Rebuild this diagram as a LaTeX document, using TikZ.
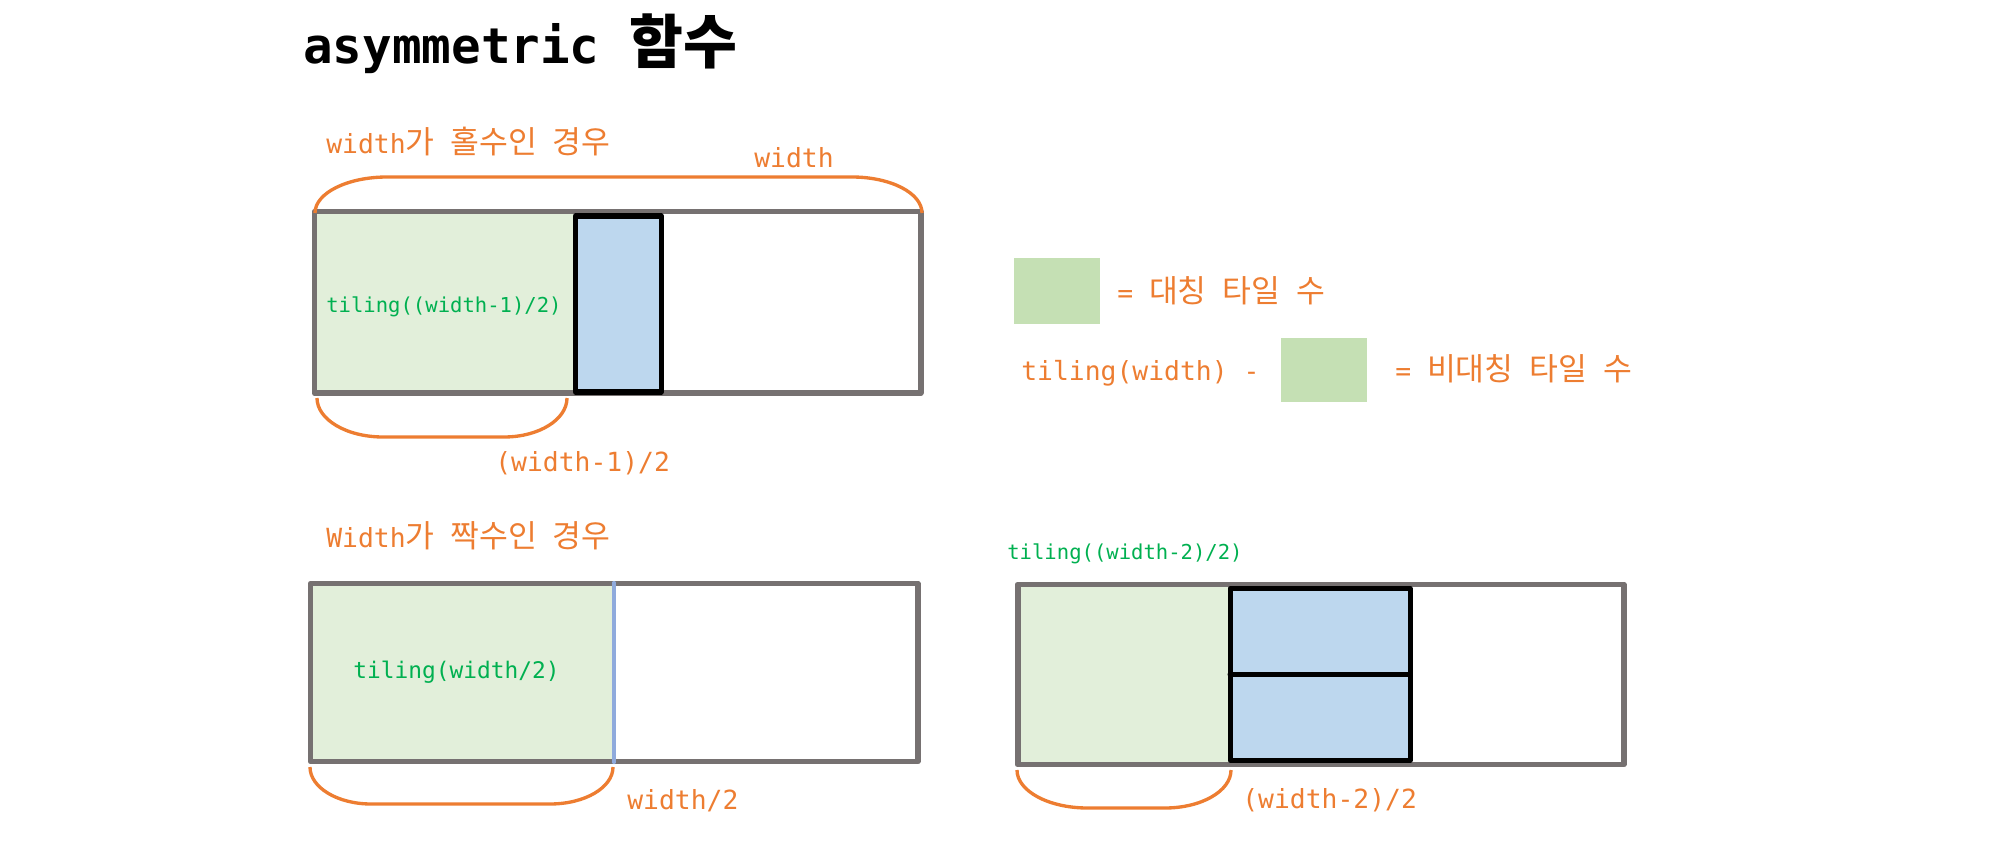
\documentclass[tikz,border=0pt]{standalone}
\usepackage{fontspec}
\usepackage{tikz}
\usepackage{tkz-euclide}
\usepackage{xcolor}
\setmainfont{DejaVu Sans Mono}
\newfontfamily\kr{Noto Sans CJK KR}[Scale=1.19]
\definecolor{orng}{HTML}{ED7D31}
\definecolor{boxgray}{HTML}{767171}
\definecolor{txtgreen}{HTML}{00B050}
\definecolor{gfill}{HTML}{E2EFDA}
\definecolor{lgreen}{HTML}{C5E0B4}
\definecolor{tblue}{HTML}{BDD7EE}
\definecolor{lineblue}{HTML}{8FAADC}
\tikzset{
	box/.style={line width=3.4pt,color=boxgray},
	tile/.style={line width=2.85pt,color=black},
	brace/.style={line width=1.9pt,color=orng},
	lbl/.style={orng,anchor=base west,inner sep=0pt,font=\fontsize{15}{18}\selectfont},
	tl/.style={txtgreen,anchor=base west,inner sep=0pt,font=\fontsize{11.7}{14}\selectfont}
}
\begin{document}
\begin{tikzpicture}
	\useasboundingbox (0,0) rectangle (40.04,16.96);
	\tkzDefPoints{6.29/9.10/A,18.41/9.10/B,18.41/12.73/C,6.29/12.73/D,11.50/9.10/E,11.50/12.73/F}
	\tkzDefPoints{11.51/9.12/G,13.22/9.12/H,13.22/12.64/I,11.51/12.64/J}
	\tkzDefPoints{6.21/1.73/K,18.35/1.73/L,18.35/5.29/M,6.21/5.29/N,12.28/1.71/P,12.28/5.31/Q}
	\tkzDefPoints{20.35/1.67/R,32.47/1.67/S,32.47/5.27/T,20.35/5.27/U,24.60/1.67/V,24.60/5.27/W}
	\tkzDefPoints{24.60/1.76/T1,28.20/1.76/T2,28.20/3.48/T3,24.60/3.48/T4,28.20/5.19/T5,24.60/5.19/T6}
	\tkzDefPoints{20.28/10.48/G1,22.00/11.80/G2,25.62/8.92/G3,27.34/10.20/G4}
	\tkzFillPolygon[color=gfill](A,E,F,D)
	\tkzFillPolygon[color=tblue](G,H,I,J)
	\tkzDrawPolygon[box](A,B,C,D)
	\tkzDrawPolygon[tile](G,H,I,J)
	\tkzFillPolygon[color=gfill](K,P,Q,N)
	\tkzDrawPolygon[box](K,L,M,N)
	\tkzDrawSegments[line width=1.8pt,color=lineblue](P,Q)
	\tkzFillPolygon[color=gfill](R,V,W,U)
	\tkzFillPolygon[color=tblue](T1,T2,T5,T6)
	\tkzDrawPolygon[box](R,S,T,U)
	\tkzDrawPolygon[tile](T1,T2,T5,T6)
	\tkzDrawSegments[tile](T4,T3)
	\fill[lgreen] (G1) rectangle (G2);
	\fill[lgreen] (G3) rectangle (G4);
	\draw[brace] (6.30,12.70) .. controls (6.30,13.10) and (6.95,13.42) .. (7.74,13.42) -- (17.04,13.42) .. controls (17.81,13.42) and (18.44,13.10) .. (18.44,12.70);
	\draw[brace] (6.34,9.00) .. controls (6.34,8.57) and (6.93,8.22) .. (7.66,8.22) -- (10.08,8.22) .. controls (10.78,8.22) and (11.34,8.57) .. (11.34,9.00);
	\draw[brace] (6.20,1.62) .. controls (6.20,1.21) and (6.75,0.88) .. (7.42,0.88) -- (11.00,0.88) .. controls (11.70,0.88) and (12.26,1.21) .. (12.26,1.62);
	\draw[brace] (20.34,1.56) .. controls (20.34,1.14) and (20.97,0.80) .. (21.75,0.80) -- (23.30,0.80) .. controls (24.03,0.80) and (24.62,1.14) .. (24.62,1.56);
	\node[anchor=base west,inner sep=0pt,font=\fontsize{28}{32}\selectfont\bfseries] (title) at (6.06,15.68) {asymmetric {\kr 함수}};
	\node[lbl] (odd) at (6.52,13.88) {width{\kr 가} {\kr 홀수인} {\kr 경우}};
	\node[lbl] (wlbl) at (15.08,13.60) {width};
	\node[tl] (oddtile) at (6.52,10.72) {tiling((width-1)/2)};
	\node[lbl] (halfodd) at (9.90,7.54) {(width-1)/2};
	\node[lbl] (sym) at (22.34,10.92) {= {\kr 대칭} {\kr 타일} {\kr 수}};
	\node[lbl] (tall) at (20.42,9.36) {tiling(width) -};
	\node[lbl] (asym) at (27.90,9.36) {= {\kr 비대칭} {\kr 타일} {\kr 수}};
	\node[lbl] (even) at (6.52,6.02) {Width{\kr 가} {\kr 짝수인} {\kr 경우}};
	\node[tl,font=\fontsize{13}{16}\selectfont] (eventile) at (7.06,3.40) {tiling(width/2)};
	\node[lbl] (halfeven) at (12.54,0.78) {width/2};
	\node[tl] (twotile) at (20.14,5.78) {tiling((width-2)/2)};
	\node[lbl] (halftwo) at (24.84,0.80) {(width-2)/2};
\end{tikzpicture}
\end{document}
